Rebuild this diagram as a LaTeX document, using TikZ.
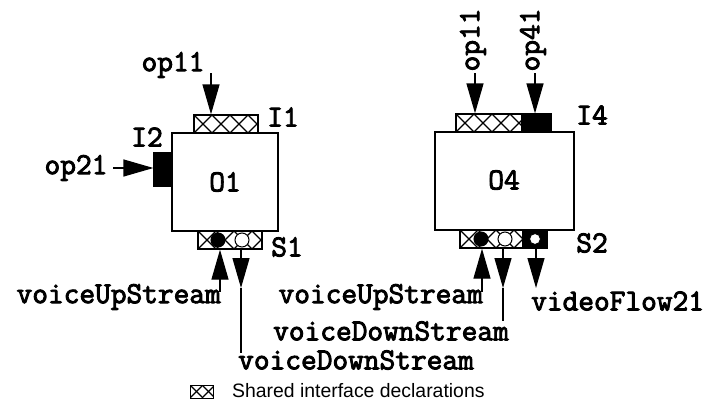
\documentclass[tikz,border=0pt]{standalone}
\usepackage{fontspec}
\setmainfont{Liberation Sans}
\newfontfamily\monob{Latin Modern Mono}[FakeBold=3]
\usetikzlibrary{arrows.meta}

\tikzset{
  lbl/.style={font=\monob\fontsize{30.5}{31}\selectfont, inner sep=0pt},
  objbox/.style 2 args={draw, line width=1.5pt, fill=white, inner sep=0pt,
    minimum width=#1, minimum height=#2},
  blackport/.style 2 args={draw, line width=1.2pt, fill=black, inner sep=0pt,
    minimum width=#1, minimum height=#2},
  hatched/.style n args={3}{draw, line width=1.3pt, fill=white, inner sep=0pt,
    minimum width=#1, minimum height=#2,
    path picture={
      \foreach \k in {-1,...,8}{
        \draw[line width=1.1pt]
          ([xshift=\k*#3]path picture bounding box.south west) -- ++(#3,#3);
        \draw[line width=1.1pt]
          ([xshift=\k*#3]path picture bounding box.north west) -- ++(#3,-#3);
      }}},
  dotfull/.style={circle, draw, line width=1pt, fill=black, inner sep=0pt, minimum size=#1},
  dotopen/.style={circle, draw, line width=1pt, fill=white, inner sep=0pt, minimum size=#1},
  arr/.style={line width=1.3pt, -{Triangle[length=30pt,width=17pt]}},
  plain/.style={line width=1.3pt},
}

\begin{document}
\begin{tikzpicture}[x=1pt, y=-1pt]
\useasboundingbox (0,0) rectangle (709,412);

% ---------- object O1 ----------
\node[objbox={106pt}{98pt}] (O1) at (225,182) {};
\node[lbl] (O1l) at (225,182) {O1};
\node[hatched={64pt}{18pt}{18pt}] (I1) at (226,124) {};
\node[blackport={18pt}{33pt}] (I2) at (163,169.5) {};
\node[hatched={64pt}{18pt}{18pt}] (S1) at (230,240) {};
\node[dotfull=14pt] (S1a) at (218,240) {};
\node[dotopen=14pt] (S1b) at (242,240) {};

\node[lbl] (I1l) at (283,117) {I1};
\node[lbl] (I2l) at (147,137) {I2};
\node[lbl] (S1l) at (287,247) {S1};
\node[lbl] (op11a) at (173,65) {op11};
\node[lbl] (op21) at (76,168) {op21};
\node[lbl, anchor=east] (vupA) at (221,297) {voiceUpStream};
\node[lbl, anchor=west] (vdnA) at (238,360) {voiceDownStream};

\coordinate (op11aT) at (211,73);
\coordinate (op21T) at (113,168);
\coordinate (vupAT) at (220,292);
\coordinate (vdnAtip) at (241,288);
\coordinate (vdnAE) at (241,353);

\draw[arr] (op11aT) -- (op11aT |- I1.north);
\draw[arr] (op21T) -- (I2.west |- op21T);
\draw[arr] (vupAT) -- (vupAT |- S1.south);
\draw[arr] (vdnAtip |- S1.south) -- (vdnAtip);
\draw[plain] (vdnAtip) -- (vdnAE);

% ---------- object O4 ----------
\node[objbox={139pt}{98pt}] (O4) at (504.5,181) {};
\node[lbl] (O4l) at (504,180) {O4};
\node[hatched={66pt}{18pt}{18pt}] (I4a) at (489,123) {};
\node[blackport={29pt}{18pt}] (I4b) at (536.5,123) {};
\node[hatched={63pt}{18pt}{18pt}] (S2a) at (491.5,239) {};
\node[blackport={24pt}{18pt}] (S2b) at (535,239) {};
\node[dotfull=14pt] (S2c) at (481,239) {};
\node[dotopen=14pt] (S2d) at (505,239) {};
\node[dotopen=11pt] (S2e) at (535,239) {};

\node[lbl] (I4l) at (592,115) {I4};
\node[lbl] (S2l) at (592,243) {S2};
\node[lbl, rotate=90] (op11b) at (473,40) {op11};
\node[lbl, rotate=90] (op41) at (533,40) {op41};
\node[lbl, anchor=east] (vupB) at (483,297) {voiceUpStream};
\node[lbl, anchor=east] (vdnB) at (509,331) {voiceDownStream};
\node[lbl, anchor=west] (vid) at (531,301) {videoFlow21};

\coordinate (op11bT) at (475,73);
\coordinate (op41T) at (535,73);
\coordinate (vupBT) at (482,292);
\coordinate (vdnBtip) at (503,288);
\coordinate (vdnBE) at (503,321);
\coordinate (vidT) at (536,288);

\draw[arr] (op11bT) -- (op11bT |- I4a.north);
\draw[arr] (op41T) -- (op41T |- I4b.north);
\draw[arr] (vupBT) -- (vupBT |- S2a.south);
\draw[arr] (vdnBtip |- S2a.south) -- (vdnBtip);
\draw[plain] (vdnBtip) -- (vdnBE);
\draw[arr] (vidT |- S2b.south) -- (vidT);

% ---------- legend ----------
\node[hatched={23pt}{13pt}{12pt}, line width=1pt] (leg) at (201.5,391.5) {};
\node[font=\fontsize{19.4}{22}\selectfont, anchor=west, inner sep=0pt] (legt) at (232,391) {Shared interface declarations};
\end{tikzpicture}
\end{document}
